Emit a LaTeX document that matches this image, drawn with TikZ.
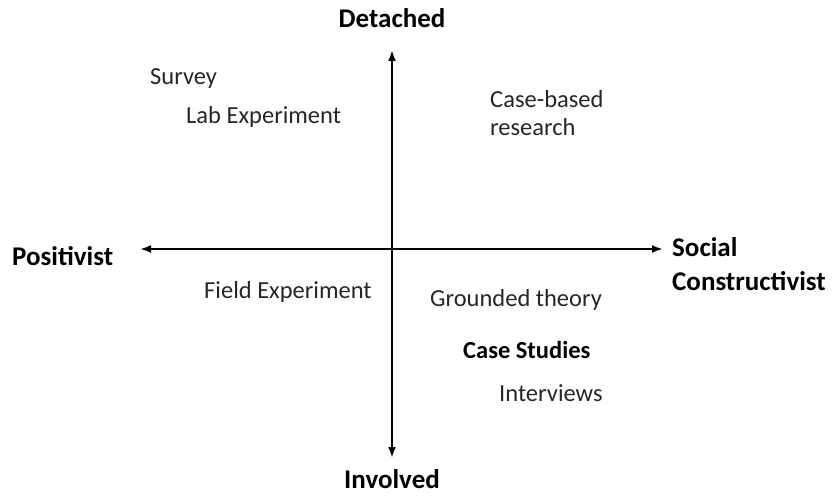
\documentclass[tikz,border=0pt]{standalone}
\usepackage{fontspec}
\setmainfont{Carlito}
\usepackage{xcolor}
\usepackage{tikz}
\usetikzlibrary{arrows.meta,positioning}
\definecolor{inkgray}{HTML}{262626}
\tikzset{
  polenode/.style={inner sep=0pt,font=\fontsize{27}{34}\selectfont\bfseries,text=black},
  methodnode/.style={inner sep=0pt,font=\fontsize{24.5}{28}\selectfont,text=inkgray,anchor=west},
  axisarrow/.style={{Latex[length=11pt,width=8pt]}-{Latex[length=11pt,width=8pt]},draw=black,line width=2.2pt},
}
\begin{document}
\begin{tikzpicture}[x=1pt,y=-1pt]
    \useasboundingbox (0,0) rectangle (832,495);
    \coordinate (top) at (392,50);
    \coordinate (bottom) at (392,458);
    \coordinate (left) at (140,249);
    \coordinate (right) at (663,249);
    \draw[axisarrow] (bottom)--(top); \draw[axisarrow] (left)--(right);
    \node[polenode] (detached) at (392,18) {Detached};
    \node[polenode] (involved) at (392,479) {Involved};
    \node[polenode,anchor=west] (positivist) at (12,256) {Positivist};
    \node[polenode,anchor=west,align=left] (social) at (672,264) {Social\\Constructivist};
    \node[methodnode] (survey) at (150,79) {Survey};
    \node[methodnode] (lab) at (186,117) {Lab Experiment};
    \node[methodnode,align=left] (casebased) at (490,113) {Case-based\\research};
    \node[methodnode] (field) at (204,292) {Field Experiment};
    \node[methodnode] (grounded) at (430,300) {Grounded theory};
    \node[methodnode,font=\fontsize{24.5}{28}\selectfont\bfseries,text=black] (casestudies) at (463,350) {Case Studies};
    \node[methodnode] (interviews) at (499,393) {Interviews};
  \end{tikzpicture}
\end{document}
